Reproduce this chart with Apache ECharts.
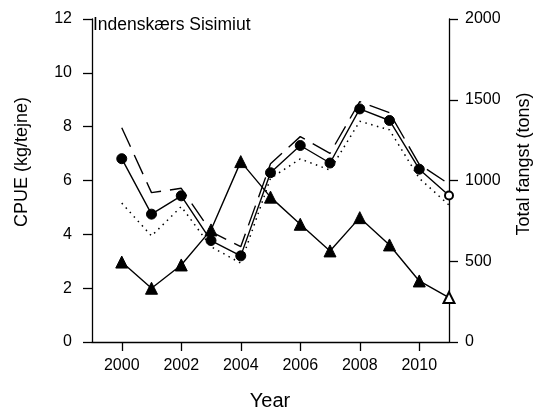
<!DOCTYPE html>
<html>
<head>
<meta charset="utf-8">
<title>Indenskærs Sisimiut</title>
<script src="https://cdn.jsdelivr.net/npm/echarts@6/dist/echarts.min.js"></script>
<style>
  html, body { margin: 0; padding: 0; background: #fff; }
  #cpue_chart { width: 535px; height: 412px; }
</style>
</head>
<body>
<div id="cpue_chart"></div>
<script>
// data
var years = [2000, 2001, 2002, 2003, 2004, 2005, 2006, 2007, 2008, 2009, 2010, 2011];
var cpue = [6.81, 4.75, 5.43, 3.77, 3.2, 6.29, 7.3, 6.65, 8.66, 8.23, 6.42, 5.44];
var cpueUpper = [7.96, 5.55, 5.71, 4.1, 3.54, 6.62, 7.63, 7.01, 8.93, 8.52, 6.6, 5.87];
var cpueLower = [5.16, 3.94, 5.03, 3.54, 2.93, 6.08, 6.8, 6.39, 8.2, 7.88, 6.08, 5.09];
var fangst = [495, 333, 477, 694, 1117, 897, 729, 564, 770, 601, 378, 275];
var yearTicks = [2000, 2002, 2004, 2006, 2008, 2010];

var FONT = "Liberation Sans, Arial, sans-serif";

// last year is drawn with an open marker
function points(vals, lastSymbol, lastSize) {
  return years.map(function(yr, i) {
    if (lastSymbol && i === years.length - 1) {
      return { value: [yr, vals[i]], symbol: lastSymbol, symbolSize: lastSize };
    }
    return [yr, vals[i]];
  });
}

function plain(v) {
  return String(v);
}

function draw_chart(ele_ID) {
  var myChart = echarts.init(document.getElementById(ele_ID));
  var axisLine = { show: true, lineStyle: { color: "#000", width: 1.3 } };
  var axisTick = { show: true, inside: false, length: 9, lineStyle: { color: "#000", width: 1.3 } };
  var option = {
    animation: false,
    backgroundColor: "#fff",
    grid: { left: 92, right: 86, top: 19, bottom: 70 },
    xAxis: {
      type: "value",
      min: 1999,
      max: 2011,
      axisLine: axisLine,
      axisTick: { show: true, length: 9, lineStyle: { color: "#000", width: 1.3 }, customValues: yearTicks },
      axisLabel: { color: "#000", fontSize: 16, fontFamily: FONT, margin: 16, customValues: yearTicks, formatter: plain },
      splitLine: { show: false }
    },
    yAxis: [
      {
        type: "value",
        position: "left",
        min: 0,
        max: 12,
        interval: 2,
        axisLine: axisLine,
        axisTick: axisTick,
        axisLabel: { color: "#000", fontSize: 16, fontFamily: FONT, margin: 20, formatter: plain },
        splitLine: { show: false }
      },
      {
        type: "value",
        position: "right",
        min: 0,
        max: 2000,
        interval: 500,
        axisLine: axisLine,
        axisTick: axisTick,
        axisLabel: { color: "#000", fontSize: 16, fontFamily: FONT, margin: 16, formatter: plain },
        splitLine: { show: false }
      }
    ],
    graphic: [
      {
        type: "text", left: 93, top: 16,
        style: { text: "Indenskærs Sisimiut", fill: "#000", font: "17.5px " + FONT }
      },
      {
        type: "text", x: 270, y: 401,
        style: { text: "Year", fill: "#000", font: "20px " + FONT, align: "center", verticalAlign: "middle" }
      },
      {
        type: "text", x: 22, y: 162, rotation: Math.PI / 2,
        style: { text: "CPUE (kg/tejne)", fill: "#000", font: "18px " + FONT, align: "center", verticalAlign: "middle" }
      },
      {
        type: "text", x: 524, y: 164, rotation: Math.PI / 2,
        style: { text: "Total fangst (tons)", fill: "#000", font: "18px " + FONT, align: "center", verticalAlign: "middle" }
      }
    ],
    series: [
      {
        name: "upper",
        type: "line",
        yAxisIndex: 0,
        symbol: "none",
        lineStyle: { color: "#000", width: 1.4, type: [21, 9] },
        data: points(cpueUpper)
      },
      {
        name: "lower",
        type: "line",
        yAxisIndex: 0,
        symbol: "none",
        lineStyle: { color: "#000", width: 1.5, type: [1.5, 4.5] },
        data: points(cpueLower)
      },
      {
        name: "fangst",
        type: "line",
        yAxisIndex: 1,
        symbol: "triangle",
        symbolSize: 12,
        itemStyle: { color: "#000", borderColor: "#000", borderWidth: 1 },
        lineStyle: { color: "#000", width: 1.4 },
        data: points(fangst, "emptyTriangle", 11)
      },
      {
        name: "cpue",
        type: "line",
        yAxisIndex: 0,
        symbol: "circle",
        symbolSize: 10,
        itemStyle: { color: "#000", borderColor: "#000", borderWidth: 1 },
        lineStyle: { color: "#000", width: 1.4 },
        data: points(cpue, "emptyCircle", 8)
      }
    ]
  };
  myChart.setOption(option);
}

draw_chart("cpue_chart");
</script>
</body>
</html>
